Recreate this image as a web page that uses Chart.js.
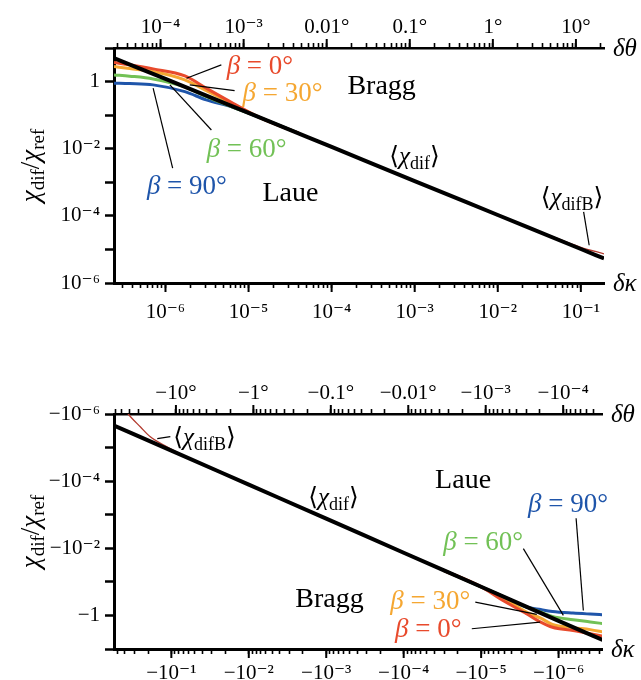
<!DOCTYPE html>
<html>
<head>
<meta charset="utf-8">
<script src="https://cdn.jsdelivr.net/npm/chart.js@4.4.0/dist/chart.umd.min.js"></script>
<style>
  body { margin: 0; background: #fff; }
  canvas { display: block; }
</style>
</head>
<body>
<canvas id="topChart" width="641" height="340"></canvas>
<canvas id="bottomChart" width="641" height="340"></canvas>
<script>
// ---- data: [dkappa, chi_dif/chi_ref] ----
// upper panel (positive values)
const topDif   = [[2.4e-7, 5.0], [1e-6, 1.2], [1e-5, 0.117], [1e-4, 0.0113], [1e-3, 1.09e-3], [1e-2, 1.06e-4], [0.1, 1.03e-5], [0.19, 5.4e-6]];
const topDifB  = [[1e-3, 1.09e-3], [0.01, 1.07e-4], [0.03, 3.6e-5], [0.06, 1.85e-5], [0.1, 1.16e-5], [0.19, 7.4e-6]];
const topBeta0  = [[2.4e-7, 3.7], [3.7e-7, 3.16], [7.1e-7, 2.39], [1.71e-6, 1.48], [3.1e-6, 0.635], [6.5e-6, 0.226], [1.35e-5, 0.0853], [4e-5, 0.029]];
const topBeta30 = [[2.4e-7, 2.8], [3.7e-7, 2.44], [7.1e-7, 1.99], [1.71e-6, 1.12], [3.1e-6, 0.539], [6.5e-6, 0.211], [1.35e-5, 0.0853], [4e-5, 0.029]];
const topBeta60 = [[2.4e-7, 1.58], [3.7e-7, 1.45], [7.1e-7, 1.2], [1.71e-6, 0.695], [3.1e-6, 0.357], [6.5e-6, 0.172], [1.35e-5, 0.0853], [4e-5, 0.029]];
const topBeta90 = [[2.4e-7, 0.896], [3.7e-7, 0.87], [7.1e-7, 0.797], [1.71e-6, 0.503], [3.1e-6, 0.284], [6.5e-6, 0.172], [1.35e-5, 0.0853], [4e-5, 0.029]];

// lower panel (negative values, plotted by magnitude on reversed axes)
const botDif   = [[0.55, 2.2e-6], [0.1, 1.23e-5], [1e-2, 1.27e-4], [1e-3, 1.31e-3], [1e-4, 0.0136], [1e-5, 0.14], [1e-6, 1.45], [2.7e-7, 5.4]];
const botDifB  = [[0.4, 7e-7], [0.36, 1.0e-6], [0.25, 2.44e-6], [0.187, 4.77e-6], [0.114, 9.46e-6], [0.057, 2.17e-5], [0.0173, 7.24e-5], [1e-3, 1.31e-3]];
const botBeta0  = [[3e-5, 0.046], [1e-5, 0.14], [5.7e-6, 0.32], [2.6e-6, 0.89], [1.7e-6, 1.58], [1.2e-6, 2.24], [6.5e-7, 2.8], [3.9e-7, 3.5], [2.6e-7, 4.24]];
const botBeta30 = [[3e-5, 0.046], [1e-5, 0.14], [5.7e-6, 0.26], [2.6e-6, 0.8], [1.7e-6, 1.21], [1.2e-6, 1.86], [6.5e-7, 2.33], [3.9e-7, 2.65], [2.6e-7, 3.15]];
const botBeta60 = [[3e-5, 0.046], [1e-5, 0.14], [5.7e-6, 0.248], [2.6e-6, 0.56], [1.7e-6, 0.8], [1.2e-6, 1.07], [6.5e-7, 1.34], [3.9e-7, 1.56], [2.6e-7, 1.77]];
const botBeta90 = [[3e-5, 0.046], [1e-5, 0.14], [5.7e-6, 0.248], [2.6e-6, 0.56], [1.7e-6, 0.67], [1.2e-6, 0.76], [6.5e-7, 0.85], [3.9e-7, 0.91], [2.6e-7, 0.955]];

// ---- tick labels ----
const topKappaTicks  = [1e-6, 1e-5, 1e-4, 1e-3, 1e-2, 1e-1];
const topKappaLabels = ['10⁻⁶', '10⁻⁵', '10⁻⁴', '10⁻³', '10⁻²', '10⁻¹'];
const topThetaTicks  = [1e-4, 1e-3, 1e-2, 0.1, 1, 10];
const topThetaLabels = ['10⁻⁴', '10⁻³', '0.01°', '0.1°', '1°', '10°'];
const topChiTicks    = [1, 1e-2, 1e-4, 1e-6];
const topChiLabels   = ['1', '10⁻²', '10⁻⁴', '10⁻⁶'];

const botKappaTicks  = [1e-1, 1e-2, 1e-3, 1e-4, 1e-5, 1e-6];
const botKappaLabels = ['−10⁻¹', '−10⁻²', '−10⁻³', '−10⁻⁴', '−10⁻⁵', '−10⁻⁶'];
const botThetaTicks  = [10, 1, 0.1, 0.01, 1e-3, 1e-4];
const botThetaLabels = ['−10°', '−1°', '−0.1°', '−0.01°', '−10⁻³', '−10⁻⁴'];
const botChiTicks    = [1e-6, 1e-4, 1e-2, 1];
const botChiLabels   = ['−10⁻⁶', '−10⁻⁴', '−10⁻²', '−1'];

const degPerKappa = 114.6; // top axis: dtheta in degrees

const RED = '#e84a2c', ORANGE = '#f5a732', GREEN = '#72c156', BLUE = '#1f55aa', DARKRED = '#b23a2e';
const FONT = "'Liberation Serif', 'DejaVu Serif', 'DejaVu Sans', serif";

// annotations: left edge / vertical centre given in data units
const topNotes = [
  {parts: [['β', 'i'], [' = 0°', 'r']], color: RED, x: 5.45e-6, y: 3.13, size: 27},
  {parts: [['β', 'i'], [' = 30°', 'r']], color: ORANGE, x: 8.47e-6, y: 0.493, size: 27},
  {parts: [['β', 'i'], [' = 60°', 'r']], color: GREEN, x: 3.13e-6, y: 0.0105, size: 27},
  {parts: [['β', 'i'], [' = 90°', 'r']], color: BLUE, x: 5.97e-7, y: 8.25e-4, size: 27},
  {parts: [['Bragg', 'r']], color: '#000', x: 1.55e-4, y: 0.797, size: 28},
  {parts: [['Laue', 'r']], color: '#000', x: 1.47e-5, y: 5.1e-4, size: 28},
  {parts: [['⟨', 'r'], ['χ', 'i'], ['dif', 's'], ['⟩', 'r']], color: '#000', x: 4.93e-4, y: 6.2e-3, size: 25},
  {parts: [['⟨', 'r'], ['χ', 'i'], ['difB', 's'], ['⟩', 'r']], color: '#000', x: 0.0329, y: 3.6e-4, size: 25}
];
const topLeaders = [
  [4.7e-6, 3.13, 1.79e-6, 1.26],
  [6.79e-6, 0.539, 1.96e-6, 0.797],
  [3.57e-6, 0.0361, 1.13e-6, 0.797],
  [1.22e-6, 2.65e-3, 7.1e-7, 0.635],
  [0.108, 1.32e-4, 0.126, 1.33e-5]
];
const botNotes = [
  {parts: [['β', 'i'], [' = 0°', 'r']], color: RED, x: 1.29e-4, y: 2.36, size: 27},
  {parts: [['β', 'i'], [' = 30°', 'r']], color: ORANGE, x: 1.49e-4, y: 0.356, size: 27},
  {parts: [['β', 'i'], [' = 60°', 'r']], color: GREEN, x: 3.09e-5, y: 6.18e-3, size: 27},
  {parts: [['β', 'i'], [' = 90°', 'r']], color: BLUE, x: 2.48e-6, y: 4.54e-4, size: 27},
  {parts: [['Bragg', 'r']], color: '#000', x: 2.51e-3, y: 0.29, size: 28},
  {parts: [['Laue', 'r']], color: '#000', x: 3.93e-5, y: 8.7e-5, size: 28},
  {parts: [['⟨', 'r'], ['χ', 'i'], ['dif', 's'], ['⟩', 'r']], color: '#000', x: 1.71e-3, y: 3.0e-4, size: 25},
  {parts: [['⟨', 'r'], ['χ', 'i'], ['difB', 's'], ['⟩', 'r']], color: '#000', x: 0.0942, y: 4.86e-6, size: 25}
];
const botLeaders = [
  [1.32e-5, 2.49, 1.73e-6, 1.58],
  [1.19e-5, 0.401, 1.91e-6, 0.933],
  [2.85e-6, 0.0102, 8.67e-7, 1.0],
  [5.94e-7, 1.27e-3, 4.79e-7, 0.71],
  [0.152, 5.38e-6, 0.103, 4.7e-6]
];

// ---- helpers ----
function fontFor(style, size) {
  if (style === 'i') return 'italic ' + size + 'px ' + FONT;
  if (style === 's') return Math.round(size * 0.7) + 'px ' + FONT;
  return size + 'px ' + FONT;
}

function drawRich(ctx, parts, x, yc, size, color, center) {
  ctx.fillStyle = color;
  ctx.textBaseline = 'alphabetic';
  ctx.textAlign = 'left';
  let w = 0;
  parts.forEach(([t, s]) => { ctx.font = fontFor(s, size); w += ctx.measureText(t).width; });
  let cx = center ? x - w / 2 : x;
  const base = yc + size * 0.33;
  parts.forEach(([t, s]) => {
    ctx.font = fontFor(s, size);
    ctx.fillText(t, cx, s === 's' ? base + size * 0.2 : base);
    cx += ctx.measureText(t).width;
  });
}

// 1..9 x 10^n inside [min, max]
function logTicks(min, max, mults) {
  const out = [];
  for (let e = Math.floor(Math.log10(min)); e <= Math.ceil(Math.log10(max)); e++) {
    mults.forEach(m => {
      const v = m * Math.pow(10, e);
      if (v >= min * 0.999999 && v <= max * 1.000001) out.push({value: v, major: m === 1});
    });
  }
  return out;
}

function labelFor(v, ticks, labels) {
  const i = ticks.findIndex(t => Math.abs(Math.log10(t) - Math.log10(v)) < 1e-6);
  return i < 0 ? '' : labels[i];
}

function logAxis(pos, min, max, reverse, mults, ticks, labels, fit, pad) {
  const isY = pos === 'left';
  return {
    type: 'logarithmic',
    position: pos,
    min: min,
    max: max,
    reverse: reverse,
    afterFit: fit,
    afterBuildTicks: (scale) => { scale.ticks = logTicks(min, max, mults); },
    ticks: {
      autoSkip: false,
      maxRotation: 0,
      padding: pad,
      color: '#000',
      font: {family: FONT, size: 21},
      callback: (v) => labelFor(v, ticks, labels)
    },
    grid: {
      drawOnChartArea: false,
      tickLength: isY ? 9 : 5,
      tickWidth: isY ? 2.5 : 1.6,
      tickColor: '#000'
    },
    border: {display: true, color: '#000', width: pos === 'top' ? 2.5 : 3}
  };
}

function notesPlugin(notes, leaders) {
  return {
    id: 'notes',
    afterDraw(chart) {
      const {ctx, chartArea: area} = chart;
      const sx = chart.scales.x, sy = chart.scales.y;
      ctx.save();

      // longer marks at the decades of both horizontal axes
      ctx.strokeStyle = '#000';
      ctx.lineWidth = 2;
      ['x', 'x2'].forEach(id => {
        const s = chart.scales[id];
        const y0 = id === 'x' ? area.bottom : area.top;
        const dir = id === 'x' ? 1 : -1;
        s.ticks.forEach(t => {
          if (!t.major) return;
          const px = s.getPixelForValue(t.value);
          ctx.beginPath();
          ctx.moveTo(px, y0);
          ctx.lineTo(px, y0 + dir * 9);
          ctx.stroke();
        });
      });

      // leader lines
      ctx.lineWidth = 1.2;
      leaders.forEach(([x1, y1, x2, y2]) => {
        ctx.beginPath();
        ctx.moveTo(sx.getPixelForValue(x1), sy.getPixelForValue(y1));
        ctx.lineTo(sx.getPixelForValue(x2), sy.getPixelForValue(y2));
        ctx.stroke();
      });

      notes.forEach(n => {
        drawRich(ctx, n.parts, sx.getPixelForValue(n.x), sy.getPixelForValue(n.y), n.size, n.color, false);
      });

      // axis end labels
      drawRich(ctx, [['δθ', 'i']], area.right + 9, area.top, 25, '#000', false);
      drawRich(ctx, [['δκ', 'i']], area.right + 9, area.bottom, 25, '#000', false);

      // vertical axis title
      ctx.translate(30, (area.top + area.bottom) / 2);
      ctx.rotate(-Math.PI / 2);
      drawRich(ctx, [['χ', 'i'], ['dif', 's'], ['/', 'r'], ['χ', 'i'], ['ref', 's']], 0, 0, 27, '#000', true);
      ctx.restore();
    }
  };
}

function buildChart(id, p) {
  const series = [
    {pts: p.dif, color: '#000', width: 4, order: 0},
    {pts: p.difB, color: DARKRED, width: 1.3, order: 1},
    {pts: p.b0, color: RED, width: 3, order: 2},
    {pts: p.b30, color: ORANGE, width: 3, order: 3},
    {pts: p.b60, color: GREEN, width: 3, order: 4},
    {pts: p.b90, color: BLUE, width: 3, order: 5}
  ];
  new Chart(document.getElementById(id), {
    type: 'line',
    data: {
      datasets: series.map(s => ({
        data: s.pts.map(([x, y]) => ({x: x, y: y})),
        borderColor: s.color,
        borderWidth: s.width,
        pointRadius: 0,
        cubicInterpolationMode: 'monotone',
        fill: false,
        clip: 0,
        order: s.order
      }))
    },
    options: {
      responsive: false,
      animation: false,
      devicePixelRatio: 1,
      layout: {padding: {left: 0, right: p.padRight, top: 0, bottom: 0}},
      plugins: {legend: {display: false}, tooltip: {enabled: false}},
      scales: {
        x: logAxis('bottom', p.xmin, p.xmax, p.reverse, [1, 2, 3, 4, 5, 6, 7, 8, 9], p.kTicks, p.kLabels,
          (s) => { s.height = p.bottomH; }, p.bottomPad),
        x2: logAxis('top', p.xmin * degPerKappa, p.xmax * degPerKappa, p.reverse, [1, 2, 3, 4, 5, 6, 7, 8, 9], p.tTicks, p.tLabels,
          (s) => { s.height = p.topH; }, 3),
        y: logAxis('left', p.ymin, p.ymax, p.reverse, [1], p.cTicks, p.cLabels,
          (s) => { s.width = 114; }, 5)
      }
    },
    plugins: [notesPlugin(p.notes, p.leaders)]
  });
}

buildChart('topChart', {
  dif: topDif, difB: topDifB, b0: topBeta0, b30: topBeta30, b60: topBeta60, b90: topBeta90,
  xmin: 2.4e-7, xmax: 0.19, ymin: 1e-6, ymax: 10, reverse: false,
  kTicks: topKappaTicks, kLabels: topKappaLabels,
  tTicks: topThetaTicks, tLabels: topThetaLabels,
  cTicks: topChiTicks, cLabels: topChiLabels,
  notes: topNotes, leaders: topLeaders,
  padRight: 37, topH: 48, bottomH: 57, bottomPad: 12
});

buildChart('bottomChart', {
  dif: botDif, difB: botDifB, b0: botBeta0, b30: botBeta30, b60: botBeta60, b90: botBeta90,
  xmin: 2.75e-7, xmax: 0.55, ymin: 1e-6, ymax: 10, reverse: true,
  kTicks: botKappaTicks, kLabels: botKappaLabels,
  tTicks: botThetaTicks, tLabels: botThetaLabels,
  cTicks: botChiTicks, cLabels: botChiLabels,
  notes: botNotes, leaders: botLeaders,
  padRight: 39, topH: 74, bottomH: 31, bottomPad: 7
});
</script>
</body>
</html>
